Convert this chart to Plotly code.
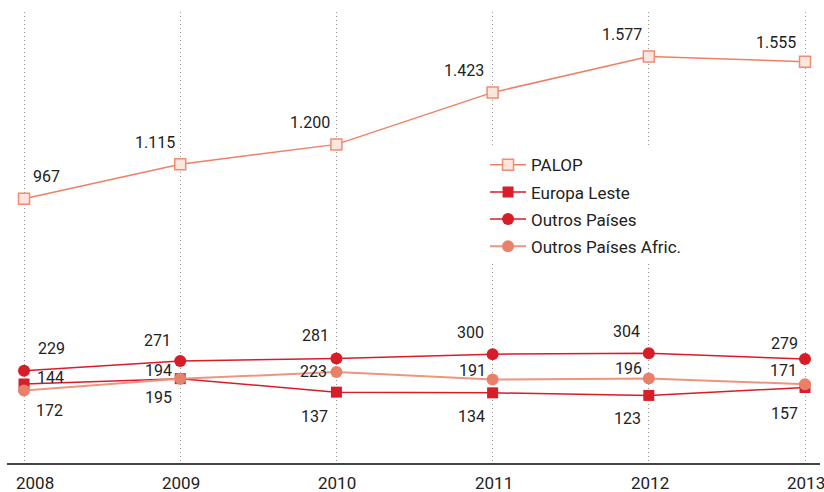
import plotly.graph_objects as go

years = [2008, 2009, 2010, 2011, 2012, 2013]
palop = [967, 1115, 1200, 1423, 1577, 1555]
europa_leste = [172, 195, 137, 134, 123, 157]
outros_paises = [229, 271, 281, 300, 304, 279]
outros_afric = [144, 194, 223, 191, 196, 171]

# label offsets in pixels (dx, dy) relative to each point
off_palop = [(22, -22), (-25, -22), (-26, -22), (-29, -22), (-27, -22), (-29, -19)]
off_el = [(25, 27), (-22, 19), (-22, 24), (-21, 24), (-21, 23), (-21, 26)]
off_op = [(27, -22), (-23, -20), (-21, -23), (-22, -22), (-22, -22), (-21, -16)]
off_opa = [(26, -13), (-22, -8), (-23, -1), (-20, -9), (-20, -10), (-22, -14)]

RED = "#D71D28"
SALMON = "#E9806A"
FONT = "Roboto"


def fmt(v):
    return f"{v:,}".replace(",", ".")


fig = go.Figure()
fig.add_trace(go.Scatter(
    x=years, y=palop, name="PALOP", mode="lines+markers",
    line=dict(color="#EF7F66", width=1.5),
    marker=dict(symbol="square", size=11, color="#FDE6DD",
                line=dict(color="#F08C73", width=1.5))))
fig.add_trace(go.Scatter(
    x=years, y=europa_leste, name="Europa Leste", mode="lines+markers",
    line=dict(color=RED, width=1.5),
    marker=dict(symbol="square", size=11, color=RED)))
fig.add_trace(go.Scatter(
    x=years, y=outros_paises, name="Outros Países", mode="lines+markers",
    line=dict(color=RED, width=1.5),
    marker=dict(symbol="circle", size=12, color=RED)))
fig.add_trace(go.Scatter(
    x=years, y=outros_afric, name="Outros Países Afric.", mode="lines+markers",
    line=dict(color="#EE9580", width=2),
    marker=dict(symbol="circle", size=12, color=SALMON)))

annotations = []
for vals, offs in [(palop, off_palop), (europa_leste, off_el),
                   (outros_paises, off_op), (outros_afric, off_opa)]:
    for x, v, (dx, dy) in zip(years, vals, offs):
        annotations.append(dict(
            x=x, y=v, text=fmt(v), showarrow=False,
            xshift=dx, yshift=-dy,
            font=dict(family=FONT, size=16, color="#222222")))

for i, yr in enumerate(years):
    annotations.append(dict(
        x=yr, y=0, yref="paper", text=str(yr), showarrow=False,
        yanchor="middle", yshift=-20, xshift=11 if i == 0 else 1,
        font=dict(family=FONT, size=17, color="#222222")))

fig.update_layout(
    width=824, height=492,
    margin=dict(l=7, r=4, t=12, b=29),
    paper_bgcolor="white", plot_bgcolor="white",
    showlegend=True,
    legend=dict(
        x=0.588, y=0.70, xanchor="left", yanchor="top",
        bgcolor="white", font=dict(family=FONT, size=17, color="#222222"),
        tracegroupgap=2, itemwidth=36),
    hovermode=False,
    annotations=annotations,
    xaxis=dict(range=[2007.891, 2013.096], showgrid=True,
               gridcolor="#9a9a9a", griddash="1px,3px", gridwidth=1,
               tickvals=years, showticklabels=False, zeroline=False,
               showline=True, linecolor="#444444", linewidth=2, ticks=""),
    yaxis=dict(range=[-167, 1768], showgrid=False, zeroline=False,
               showticklabels=False, showline=False),
)
for i, tr in enumerate(fig.data):
    tr.legendgroup = f"g{i}"

fig.write_html("out.html", config={"displayModeBar": False},
               post_script="document.body.style.margin='0px';document.body.style.overflow='hidden';")
